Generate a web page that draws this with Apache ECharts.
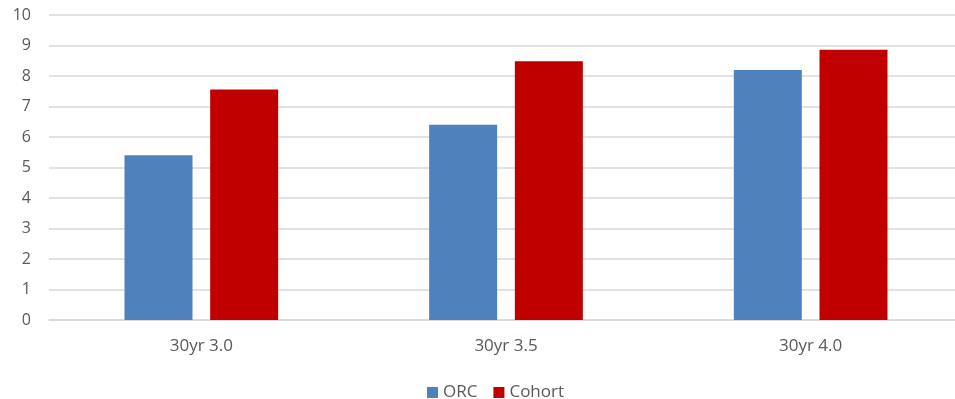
<!DOCTYPE html>
<html>
<head>
<meta charset="utf-8">
<script src="https://cdn.jsdelivr.net/npm/echarts@6/dist/echarts.min.js"></script>
<style>
  html, body { margin: 0; padding: 0; background: #fff; overflow: hidden; }
  #chart { width: 963px; height: 399px; }
</style>
</head>
<body>
<div id="chart"></div>
<script>
// Loan scenarios on the category axis
const categories = ['30yr 3.0', '30yr 3.5', '30yr 4.0'];
// Series values
const orcValues = [5.4, 6.4, 8.2];
const cohortValues = [7.56, 8.48, 8.86];
const seriesNames = ['ORC', 'Cohort'];

const FONT = '"Open Sans", "Liberation Sans", sans-serif';
const chart = echarts.init(document.getElementById('chart'), null, { renderer: 'canvas' });

chart.setOption({
  animation: false,
  backgroundColor: '#ffffff',
  grid: { left: 49, right: 0, top: 15, bottom: 79, containLabel: false },
  legend: {
    data: seriesNames,
    left: 422,
    top: 379,
    icon: 'rect',
    itemWidth: 11,
    itemHeight: 11,
    itemGap: 16,
    textStyle: { fontFamily: FONT, fontSize: 17, color: '#595959' }
  },
  xAxis: {
    type: 'category',
    data: categories,
    axisTick: { show: false },
    axisLine: { lineStyle: { color: '#d9d9d9', width: 1.5 } },
    axisLabel: { fontFamily: FONT, fontSize: 17, color: '#595959', margin: 18 }
  },
  yAxis: {
    type: 'value',
    min: 0,
    max: 10,
    interval: 1,
    axisLine: { show: false },
    axisTick: { show: false },
    axisLabel: { fontFamily: FONT, fontSize: 16, color: '#595959', margin: 18 },
    splitLine: { lineStyle: { color: '#d9d9d9', width: 1.5 } }
  },
  series: [
    {
      name: seriesNames[0],
      type: 'bar',
      data: orcValues,
      barWidth: 68,
      barGap: '26%',
      itemStyle: { color: '#4f81bd' }
    },
    {
      name: seriesNames[1],
      type: 'bar',
      data: cohortValues,
      barWidth: 68,
      barGap: '26%',
      itemStyle: { color: '#c00000' }
    }
  ]
});
</script>
</body>
</html>
